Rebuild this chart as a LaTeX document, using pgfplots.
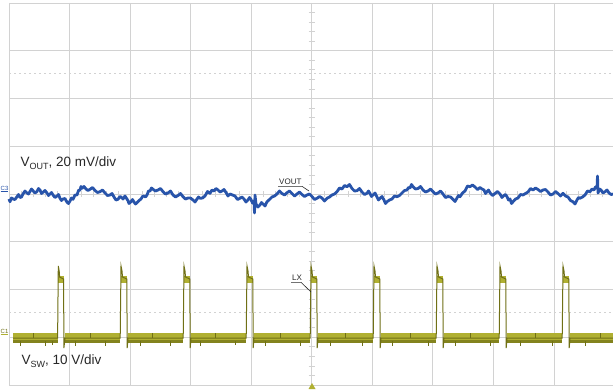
\documentclass[border=0pt]{standalone}
\usepackage{pgfplots}
\usepackage{pgfplotstable}
\pgfplotsset{compat=1.18}
\usepackage{fontspec}
\setmainfont{Liberation Sans}
\definecolor{gridc}{RGB}{210,210,210}
\definecolor{vout}{RGB}{40,84,170}
\definecolor{sw}{RGB}{176,176,50}
\definecolor{swd}{RGB}{112,112,22}
\definecolor{txt}{RGB}{40,40,40}

\pgfplotstableread{
x y
9 199
10 201.7
11.5 198
13 199
15 199.5
17 196.7
18.5 194.5
20 197.5
21.5 197
23 194
25 191
27 193
28.5 194
30 191.5
31.5 189
33 190.7
35 193
37 191.5
38.5 188.5
40 190
41.5 193.5
43 192.3
45 190.5
47 193
48.5 195.5
50 194
51.5 192.5
53 195
55 197.5
57 196
58.5 194.5
60 198.3
61.5 200.5
63 199
65 198.5
67 202.3
68.5 203.5
70 201
71.5 198
73 199.3
75 195
77 195
78.5 190.5
80 190
81 186.5
82 188.3
84 186.5
86 189
88 190.5
90 189.3
92.5 187.5
95 190.5
97.5 192.5
100 191.7
102.5 190
105 193
107.5 195.5
110 195
112 193.5
114 197
116 200
118 199.3
120 196.5
121 197
123 199
125 196
128 200.7
129 203.5
131 201.7
132.5 199.5
134 202
135.5 204
137 202.7
139 200.5
141 199
142.5 196.5
144 196
145.5 197
147 195
148.5 191
150 191
151.5 188
153 189.3
155.5 191
158 190
160.5 188.5
163 191.7
165.5 194
168 193
170.5 191
173 195
175.5 197
178 195.5
180.5 193.5
183 196.7
185.5 199
188 198
190.5 198
193 200
195 202
197 199
198.5 197
200 198.3
202.5 198
205 196
207.5 191.5
210 193.3
212 190
214 191
216 188.5
218 190
220 192
222 191
224 189.5
226 192.5
228 196
230 194
232.5 195
235 196
237.5 199.5
240 198.3
242 197
244 199
246 202
248 200
249.5 197.5
251 199.5
252.5 203
254 201
254.5 213
255 195
256 204
258 207
260 205
261.5 202.5
263 204
265 206
267 201.7
269.5 199.5
272 197
274.5 196
277 194
279.5 191
282 193.5
284.5 195
287 192.7
289.5 191
292 193.5
294.5 196
297 194
299.5 192
302 194.5
304.5 196.5
307 195
309.5 194
312 196.5
314.5 199.5
317 198.3
319.5 196.5
322 198
324.5 201
327 198.3
329.5 197
332 195
334.5 194
337 191.7
339.5 188
342 189
344.5 185.5
347 186.7
349.5 184.5
352 188.5
354.5 191
357 190.7
359.5 188.5
362 192
364.5 194.5
367 193.3
368.5 191
370 193.5
371.5 196.5
373 195
375 193
377 197
378.5 200
380 198.3
382 196.5
384 200
385.5 203.5
387 201.7
389.5 200
392 199
394.5 196
397 196.7
399.5 195.5
402 193
404.5 190.5
407 190
408.5 187.5
410 188
411.5 184.5
413 186.7
415.5 189
418 188.5
420.5 186.5
423 190
425.5 192
428 191
430.5 189
433 191.7
435.5 194
438 193
440.5 191
443 194
445.5 197.5
448 196.5
450.5 197
453 199.3
455 201.5
457 198
458.5 195.5
460 196.7
462.5 193
465 191
467.5 186
470 186.7
472.5 185
475 187
477.5 189.5
480 187.5
482 189
484 190
485.5 193.5
487 191.7
488.5 190
490 192.7
492.5 195.5
495 193.5
497.5 191.5
500 194
502 197.5
504 195.5
505.5 194.5
507 196.7
508.5 200
510 199
511.5 203.5
513 201.7
515.5 199
518 198
520.5 194.5
523 195
525.5 193.5
528 192
530.5 188.5
533 190
535.5 188
538 189.5
540.5 191.5
543 190
545.5 189.5
548 192
550.5 195
553 194
555.5 191.5
558 193.5
560.5 196
563 193.3
565.5 196
568 197
570.5 200.5
573 201.7
575 204
577 200
578.5 197.5
580 198.3
582.5 197
585 195
587.5 191
590 191.7
592 189
594 190
595.5 187
597 188.3
597.5 176
598 193
599.5 189
601 190
603 193
605 191.7
607 190
609 193
611 194.5
613 194
}\voutdata

\pgfplotstableread{
x y
13 338
57.6 338
nan nan
65 338
120.2 338
nan nan
128 338
183.2 338
nan nan
191 338
246.2 338
nan nan
254 338
310.2 338
nan nan
318 338
373.2 338
nan nan
381 338
436.2 338
nan nan
444 338
499.2 338
nan nan
507 338
562.2 338
nan nan
570 338
613 338
}\lowdata

\pgfplotstableread{
x y
13 341.5
57.6 341.5
nan nan
65 341.5
120.2 341.5
nan nan
128 341.5
183.2 341.5
nan nan
191 341.5
246.2 341.5
nan nan
254 341.5
310.2 341.5
nan nan
318 341.5
373.2 341.5
nan nan
381 341.5
436.2 341.5
nan nan
444 341.5
499.2 341.5
nan nan
507 341.5
562.2 341.5
nan nan
570 341.5
613 341.5
}\lowdark

\pgfplotstableread{
x y
58.3 279.5
64.2 279.5
nan nan
121.3 279.5
127.2 279.5
nan nan
184.3 279.5
190.2 279.5
nan nan
247.3 279.5
253.2 279.5
nan nan
311.3 279.5
317.2 279.5
nan nan
374.3 279.5
380.2 279.5
nan nan
437.3 279.5
443.2 279.5
nan nan
500.3 279.5
506.2 279.5
nan nan
563.3 279.5
569.2 279.5
}\highdata

\pgfplotstableread{
x y
13 338
57.6 338
58.3 266
59.2 271
59.6 277
63.6 279
63.9 348
65 338
120.2 338
121 266
122 271
122.5 277
126.8 279
127.2 348
128 338
183.2 338
184 266
185 271
185.5 277
189.8 279
190.2 348
191 338
246.2 338
247 266
248 271
248.5 277
252.8 279
253.2 348
254 338
310.2 338
311 266
312 271
312.5 277
316.8 279
317.2 348
318 338
373.2 338
374 266
375 271
375.5 277
379.8 279
380.2 348
381 338
436.2 338
437 266
438 271
438.5 277
442.8 279
443.2 348
444 338
499.2 338
500 266
501 271
501.5 277
505.8 279
506.2 348
507 338
562.2 338
563 266
564 271
564.5 277
568.8 279
569.2 348
570 338
613 338
}\swedge

\pgfplotstableread{
x y
20 341
20 346
nan nan
33 333
33 338
nan nan
45 341
45 346
nan nan
52 341
52 345
nan nan
75 341
75 346
nan nan
90 333
90 338
nan nan
105 341
105 346
nan nan
140 341
140 346
nan nan
152 333
152 338
nan nan
170 341
170 346
nan nan
200 341
200 346
nan nan
215 333
215 338
nan nan
235 341
235 345
nan nan
265 341
265 346
nan nan
280 333
280 338
nan nan
300 341
300 346
nan nan
330 341
330 346
nan nan
345 333
345 338
nan nan
362 341
362 346
nan nan
392 341
392 346
nan nan
410 333
410 338
nan nan
428 341
428 346
nan nan
455 341
455 346
nan nan
470 333
470 338
nan nan
490 341
490 346
nan nan
520 341
520 346
nan nan
535 333
535 338
nan nan
552 341
552 346
nan nan
585 341
585 346
nan nan
600 333
600 338
}\swnoise

\begin{document}
\begin{tikzpicture}
\useasboundingbox (0,0) rectangle (613pt,389pt);
\fill[white] (0,0) rectangle (613pt,389pt);
\begin{scope}[x=1pt,y=-1pt,shift={(0,389pt)}]
  \foreach \i in {0,...,9} {\draw[gridc, line width=0.9pt] ({9+60.55*\i},3) -- ({9+60.55*\i},385);}
  \foreach \j in {0,...,8} {\draw[gridc, line width=0.9pt] (9,{3+47.75*\j}) -- (613,{3+47.75*\j});}
  \draw[gridc, line width=0.9pt, dash pattern=on 1.5pt off 3.5pt] (9,73) -- (613,73);
  \draw[gridc, line width=0.9pt, dash pattern=on 1.5pt off 3.5pt] (9,312.5) -- (613,312.5);
  \foreach \k in {1,...,39} {\draw[gridc, line width=0.7pt] (308.7,{3+9.55*\k}) -- (314.8,{3+9.55*\k});}
  \foreach \k in {1,...,49} {\draw[gridc, line width=0.7pt] ({9+12.11*\k},191) -- ({9+12.11*\k},197);}
\end{scope}
\begin{axis}[at={(0,0)}, anchor=south west, width=613pt, height=389pt, scale only axis,
  xmin=0, xmax=613, ymin=0, ymax=389, y dir=reverse,
  axis lines=none, ticks=none, unbounded coords=jump, clip=true]
  \addplot[sw, line width=10pt, line cap=butt] table[x=x,y=y] {\lowdata};
  \addplot[swd!70!sw, line width=2.5pt, line cap=butt] table[x=x,y=y] {\lowdark};
  \addplot[sw, line width=7pt, line cap=butt] table[x=x,y=y] {\highdata};
  \addplot[swd, line width=1pt] table[x=x,y=y] {\swedge};
  \addplot[swd, line width=0.8pt] table[x=x,y=y] {\swnoise};
  \addplot[vout, line width=2.8pt, line join=round] table[x=x,y=y] {\voutdata};
\end{axis}
\begin{scope}[x=1pt,y=-1pt,shift={(0,389pt)}]
  \node[anchor=base west, inner sep=0pt, txt, font=\fontsize{13.5}{16}\selectfont] at (20.5,166.5)
    {V\raisebox{-2.6pt}{\fontsize{9}{10}\selectfont OUT}, 20 mV/div};
  \node[anchor=base west, inner sep=0pt, txt, font=\fontsize{13.5}{16}\selectfont] at (21.5,364.5)
    {V\raisebox{-2.6pt}{\fontsize{9}{10}\selectfont SW}, 10 V/div};
  \node[anchor=base west, inner sep=0pt, txt, font=\fontsize{8}{9}\selectfont] at (279,184) {VOUT};
  \draw[txt, line width=0.6pt] (278,186.3) -- (302,186.3) -- (309,191);
  \node[anchor=base west, inner sep=0pt, txt, font=\fontsize{8}{9}\selectfont] at (292,280) {LX};
  \draw[txt, line width=0.6pt] (291,282.3) -- (301,282.3) -- (311,292);
  \node[anchor=base west, inner sep=0pt, vout, font=\fontsize{6}{6}\selectfont] at (0.5,190) {C3};
  \draw[vout, line width=0.5pt] (0.5,191.5) -- (8,191.5);
  \node[anchor=base west, inner sep=0pt, swd, font=\fontsize{6}{6}\selectfont] at (0.5,333) {C1};
  \draw[sw, line width=0.5pt] (0.5,334.5) -- (8,334.5);
  \fill[sw] (312,383) -- (308.5,389) -- (315.5,389) -- cycle;
\end{scope}
\end{tikzpicture}
\end{document}
